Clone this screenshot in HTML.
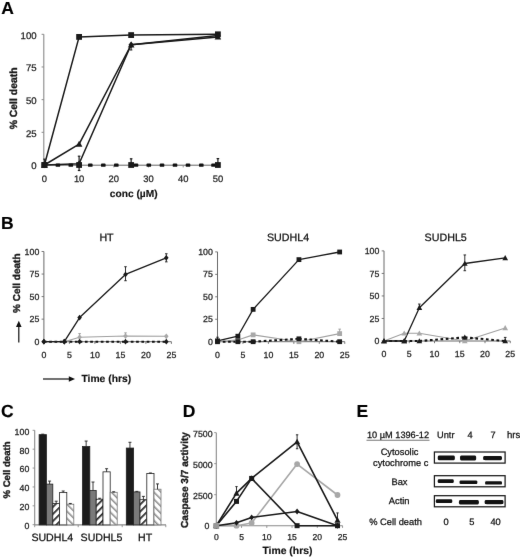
<!DOCTYPE html><html><head><meta charset="utf-8"><style>html,body{margin:0;padding:0;background:#fff;}svg{display:block;filter:grayscale(1);}text{font-family:"Liberation Sans", sans-serif;text-rendering:geometricPrecision;}</style></head><body>
<svg width="520" height="557" viewBox="0 0 520 557">
<defs><filter id="soft" filterUnits="userSpaceOnUse" x="-10" y="-10" width="540" height="577" color-interpolation-filters="sRGB"><feConvolveMatrix order="3" kernelMatrix="0.00276 0.04704 0.00276 0.04704 0.80077 0.04704 0.00276 0.04704 0.00276" edgeMode="duplicate" preserveAlpha="true"/></filter></defs>
<g filter="url(#soft)">
<rect x="-10" y="-10" width="540" height="577" fill="#ffffff"/>
<text x="1.30" y="13.70" font-size="17.5" text-anchor="start" font-weight="bold" stroke="#000" stroke-width="0.15" fill="#000">A</text>
<text x="1.00" y="229.40" font-size="17.5" text-anchor="start" font-weight="bold" stroke="#000" stroke-width="0.15" fill="#000">B</text>
<text x="1.00" y="416.60" font-size="17.5" text-anchor="start" font-weight="bold" stroke="#000" stroke-width="0.15" fill="#000">C</text>
<text x="182.80" y="416.80" font-size="17.5" text-anchor="start" font-weight="bold" stroke="#000" stroke-width="0.15" fill="#000">D</text>
<text x="356.60" y="417.00" font-size="17.5" text-anchor="start" font-weight="bold" stroke="#000" stroke-width="0.15" fill="#000">E</text>
<line x1="43.80" y1="34.30" x2="43.80" y2="165.30" stroke="#8a8a8a" stroke-width="1.1"/>
<line x1="43.80" y1="165.20" x2="219.50" y2="165.20" stroke="#666" stroke-width="1.0"/>
<line x1="41.60" y1="165.00" x2="43.80" y2="165.00" stroke="#8a8a8a" stroke-width="1.0"/>
<text x="36.60" y="169.30" font-size="9.6" text-anchor="end" stroke="#222" stroke-width="0.25" fill="#222">0</text>
<line x1="41.60" y1="132.32" x2="43.80" y2="132.32" stroke="#8a8a8a" stroke-width="1.0"/>
<text x="36.60" y="136.62" font-size="9.6" text-anchor="end" stroke="#222" stroke-width="0.25" fill="#222">25</text>
<line x1="41.60" y1="99.65" x2="43.80" y2="99.65" stroke="#8a8a8a" stroke-width="1.0"/>
<text x="36.60" y="103.95" font-size="9.6" text-anchor="end" stroke="#222" stroke-width="0.25" fill="#222">50</text>
<line x1="41.60" y1="66.98" x2="43.80" y2="66.98" stroke="#8a8a8a" stroke-width="1.0"/>
<text x="36.60" y="71.28" font-size="9.6" text-anchor="end" stroke="#222" stroke-width="0.25" fill="#222">75</text>
<line x1="41.60" y1="34.30" x2="43.80" y2="34.30" stroke="#8a8a8a" stroke-width="1.0"/>
<text x="36.60" y="38.60" font-size="9.6" text-anchor="end" stroke="#222" stroke-width="0.25" fill="#222">100</text>
<line x1="44.40" y1="165.20" x2="44.40" y2="167.40" stroke="#8a8a8a" stroke-width="1.0"/>
<text x="44.40" y="182.20" font-size="9.4" text-anchor="middle" stroke="#222" stroke-width="0.25" fill="#222">0</text>
<line x1="79.10" y1="165.20" x2="79.10" y2="167.40" stroke="#8a8a8a" stroke-width="1.0"/>
<text x="79.10" y="182.20" font-size="9.4" text-anchor="middle" stroke="#222" stroke-width="0.25" fill="#222">10</text>
<line x1="113.80" y1="165.20" x2="113.80" y2="167.40" stroke="#8a8a8a" stroke-width="1.0"/>
<text x="113.80" y="182.20" font-size="9.4" text-anchor="middle" stroke="#222" stroke-width="0.25" fill="#222">20</text>
<line x1="148.50" y1="165.20" x2="148.50" y2="167.40" stroke="#8a8a8a" stroke-width="1.0"/>
<text x="148.50" y="182.20" font-size="9.4" text-anchor="middle" stroke="#222" stroke-width="0.25" fill="#222">30</text>
<line x1="183.20" y1="165.20" x2="183.20" y2="167.40" stroke="#8a8a8a" stroke-width="1.0"/>
<text x="183.20" y="182.20" font-size="9.4" text-anchor="middle" stroke="#222" stroke-width="0.25" fill="#222">40</text>
<line x1="217.90" y1="165.20" x2="217.90" y2="167.40" stroke="#8a8a8a" stroke-width="1.0"/>
<text x="217.90" y="182.20" font-size="9.4" text-anchor="middle" stroke="#222" stroke-width="0.25" fill="#222">50</text>
<text x="133.70" y="197.40" font-size="10.2" text-anchor="middle" font-weight="bold" stroke="#111" stroke-width="0.15" fill="#111">conc (&#181;M)</text>
<text transform="translate(17.20,98.40) rotate(-90)" x="0" y="0" font-size="10.4" text-anchor="middle" font-weight="bold" stroke="#1a1a1a" stroke-width="0.35" fill="#1a1a1a">% Cell death</text>
<polyline points="44.40,165.00 79.10,36.91 131.15,35.08 217.90,34.30" fill="none" stroke="#1a1a1a" stroke-width="1.5" stroke-linejoin="round"/>
<polyline points="44.40,165.00 79.10,144.09 131.15,44.76 217.90,36.91" fill="none" stroke="#1a1a1a" stroke-width="1.5" stroke-linejoin="round"/>
<polyline points="44.40,165.00 79.10,163.69 131.15,44.76 217.90,35.61" fill="none" stroke="#1a1a1a" stroke-width="1.5" stroke-linejoin="round"/>
<rect x="55.60" y="163.6" width="4.6" height="3.2" rx="0.9" fill="#111"/>
<rect x="68.50" y="163.6" width="4.6" height="3.2" rx="0.9" fill="#111"/>
<rect x="88.00" y="163.6" width="4.6" height="3.2" rx="0.9" fill="#111"/>
<rect x="101.00" y="163.6" width="4.6" height="3.2" rx="0.9" fill="#111"/>
<rect x="114.00" y="163.6" width="4.6" height="3.2" rx="0.9" fill="#111"/>
<rect x="133.70" y="163.6" width="4.6" height="3.2" rx="0.9" fill="#111"/>
<rect x="146.50" y="163.6" width="4.6" height="3.2" rx="0.9" fill="#111"/>
<rect x="159.70" y="163.6" width="4.6" height="3.2" rx="0.9" fill="#111"/>
<rect x="172.70" y="163.6" width="4.6" height="3.2" rx="0.9" fill="#111"/>
<rect x="185.70" y="163.6" width="4.6" height="3.2" rx="0.9" fill="#111"/>
<rect x="199.00" y="163.6" width="4.6" height="3.2" rx="0.9" fill="#111"/>
<rect x="211.20" y="163.6" width="4.6" height="3.2" rx="0.9" fill="#111"/>
<line x1="79.10" y1="163.00" x2="79.10" y2="156.20" stroke="#1a1a1a" stroke-width="1.2"/>
<line x1="77.80" y1="156.20" x2="80.40" y2="156.20" stroke="#1a1a1a" stroke-width="1.2"/>
<line x1="79.10" y1="167.00" x2="79.10" y2="170.50" stroke="#1a1a1a" stroke-width="1.2"/>
<line x1="77.80" y1="170.50" x2="80.40" y2="170.50" stroke="#1a1a1a" stroke-width="1.2"/>
<line x1="131.15" y1="44.76" x2="131.15" y2="49.98" stroke="#1a1a1a" stroke-width="1.0"/>
<line x1="129.95" y1="49.98" x2="132.35" y2="49.98" stroke="#1a1a1a" stroke-width="1.0"/>
<line x1="131.15" y1="163.00" x2="131.15" y2="158.80" stroke="#1a1a1a" stroke-width="1.2"/>
<line x1="129.85" y1="158.80" x2="132.45" y2="158.80" stroke="#1a1a1a" stroke-width="1.2"/>
<line x1="217.90" y1="163.00" x2="217.90" y2="158.60" stroke="#1a1a1a" stroke-width="1.2"/>
<line x1="216.60" y1="158.60" x2="219.20" y2="158.60" stroke="#1a1a1a" stroke-width="1.2"/>
<line x1="44.40" y1="163.00" x2="44.40" y2="159.10" stroke="#1a1a1a" stroke-width="1.0"/>
<line x1="43.20" y1="159.10" x2="45.60" y2="159.10" stroke="#1a1a1a" stroke-width="1.0"/>
<rect x="41.50" y="162.10" width="5.80" height="5.80" fill="#1a1a1a"/>
<rect x="76.20" y="34.01" width="5.80" height="5.80" fill="#1a1a1a"/>
<rect x="128.25" y="32.18" width="5.80" height="5.80" fill="#1a1a1a"/>
<rect x="215.00" y="31.40" width="5.80" height="5.80" fill="#1a1a1a"/>
<polygon points="44.40,161.70 47.70,167.64 41.10,167.64" fill="#1a1a1a"/>
<polygon points="79.10,140.79 82.40,146.73 75.80,146.73" fill="#1a1a1a"/>
<polygon points="131.15,41.46 134.45,47.40 127.85,47.40" fill="#1a1a1a"/>
<polygon points="217.90,33.61 221.20,39.55 214.60,39.55" fill="#1a1a1a"/>
<polygon points="44.40,161.70 47.04,165.00 44.40,168.30 41.76,165.00" fill="#1a1a1a"/>
<polygon points="79.10,160.39 81.74,163.69 79.10,166.99 76.46,163.69" fill="#1a1a1a"/>
<polygon points="131.15,41.46 133.79,44.76 131.15,48.06 128.51,44.76" fill="#1a1a1a"/>
<polygon points="217.90,32.31 220.54,35.61 217.90,38.91 215.26,35.61" fill="#1a1a1a"/>
<rect x="41.50" y="162.10" width="5.80" height="5.80" fill="#1a1a1a"/>
<rect x="76.20" y="162.10" width="5.80" height="5.80" fill="#1a1a1a"/>
<rect x="128.25" y="162.10" width="5.80" height="5.80" fill="#1a1a1a"/>
<rect x="215.00" y="162.10" width="5.80" height="5.80" fill="#1a1a1a"/>
<line x1="43.90" y1="251.50" x2="43.90" y2="342.10" stroke="#6a6a6a" stroke-width="1.0"/>
<line x1="43.90" y1="341.70" x2="171.40" y2="341.70" stroke="#6a6a6a" stroke-width="1.0"/>
<line x1="41.60" y1="341.70" x2="43.90" y2="341.70" stroke="#6a6a6a" stroke-width="0.9"/>
<text x="39.30" y="344.80" font-size="8.8" text-anchor="end" stroke="#222" stroke-width="0.25" fill="#222">0</text>
<line x1="41.60" y1="319.15" x2="43.90" y2="319.15" stroke="#6a6a6a" stroke-width="0.9"/>
<text x="39.30" y="322.25" font-size="8.8" text-anchor="end" stroke="#222" stroke-width="0.25" fill="#222">25</text>
<line x1="41.60" y1="296.60" x2="43.90" y2="296.60" stroke="#6a6a6a" stroke-width="0.9"/>
<text x="39.30" y="299.70" font-size="8.8" text-anchor="end" stroke="#222" stroke-width="0.25" fill="#222">50</text>
<line x1="41.60" y1="274.05" x2="43.90" y2="274.05" stroke="#6a6a6a" stroke-width="0.9"/>
<text x="39.30" y="277.15" font-size="8.8" text-anchor="end" stroke="#222" stroke-width="0.25" fill="#222">75</text>
<line x1="41.60" y1="251.50" x2="43.90" y2="251.50" stroke="#6a6a6a" stroke-width="0.9"/>
<text x="39.30" y="254.60" font-size="8.8" text-anchor="end" stroke="#222" stroke-width="0.25" fill="#222">100</text>
<line x1="43.90" y1="341.70" x2="43.90" y2="343.90" stroke="#6a6a6a" stroke-width="0.9"/>
<text x="43.90" y="357.70" font-size="8.8" text-anchor="middle" stroke="#222" stroke-width="0.25" fill="#222">0</text>
<line x1="69.40" y1="341.70" x2="69.40" y2="343.90" stroke="#6a6a6a" stroke-width="0.9"/>
<text x="69.40" y="357.70" font-size="8.8" text-anchor="middle" stroke="#222" stroke-width="0.25" fill="#222">5</text>
<line x1="94.90" y1="341.70" x2="94.90" y2="343.90" stroke="#6a6a6a" stroke-width="0.9"/>
<text x="94.90" y="357.70" font-size="8.8" text-anchor="middle" stroke="#222" stroke-width="0.25" fill="#222">10</text>
<line x1="120.40" y1="341.70" x2="120.40" y2="343.90" stroke="#6a6a6a" stroke-width="0.9"/>
<text x="120.40" y="357.70" font-size="8.8" text-anchor="middle" stroke="#222" stroke-width="0.25" fill="#222">15</text>
<line x1="145.90" y1="341.70" x2="145.90" y2="343.90" stroke="#6a6a6a" stroke-width="0.9"/>
<text x="145.90" y="357.70" font-size="8.8" text-anchor="middle" stroke="#222" stroke-width="0.25" fill="#222">20</text>
<line x1="171.40" y1="341.70" x2="171.40" y2="343.90" stroke="#6a6a6a" stroke-width="0.9"/>
<text x="171.40" y="357.70" font-size="8.8" text-anchor="middle" stroke="#222" stroke-width="0.25" fill="#222">25</text>
<text x="106.50" y="240.90" font-size="10.7" text-anchor="middle" stroke="#111" stroke-width="0.25" fill="#111">HT</text>
<polyline points="43.90,341.70 64.30,341.70 79.60,337.19 125.50,336.02 166.30,336.29" fill="none" stroke="#a0a0a0" stroke-width="1.1" stroke-linejoin="round"/>
<line x1="43.90" y1="341.70" x2="64.30" y2="341.70" stroke="#111" stroke-width="2.1" stroke-dasharray="2.7 2.6"/>
<line x1="64.30" y1="341.70" x2="79.60" y2="341.70" stroke="#111" stroke-width="2.1" stroke-dasharray="2.7 2.6"/>
<line x1="79.60" y1="341.70" x2="125.50" y2="341.70" stroke="#111" stroke-width="2.1" stroke-dasharray="2.7 2.6"/>
<line x1="125.50" y1="341.70" x2="166.30" y2="341.70" stroke="#111" stroke-width="2.1" stroke-dasharray="2.7 2.6"/>
<polyline points="43.90,341.70 64.30,341.70 79.60,317.53 125.50,274.41 166.30,257.81" fill="none" stroke="#1a1a1a" stroke-width="1.3" stroke-linejoin="round"/>
<line x1="125.50" y1="274.41" x2="125.50" y2="266.74" stroke="#1a1a1a" stroke-width="0.9"/>
<line x1="124.20" y1="266.74" x2="126.80" y2="266.74" stroke="#1a1a1a" stroke-width="0.9"/>
<line x1="125.50" y1="274.41" x2="125.50" y2="280.72" stroke="#1a1a1a" stroke-width="0.9"/>
<line x1="124.20" y1="280.72" x2="126.80" y2="280.72" stroke="#1a1a1a" stroke-width="0.9"/>
<line x1="166.30" y1="257.81" x2="166.30" y2="253.75" stroke="#1a1a1a" stroke-width="0.9"/>
<line x1="165.00" y1="253.75" x2="167.60" y2="253.75" stroke="#1a1a1a" stroke-width="0.9"/>
<line x1="166.30" y1="257.81" x2="166.30" y2="261.87" stroke="#1a1a1a" stroke-width="0.9"/>
<line x1="165.00" y1="261.87" x2="167.60" y2="261.87" stroke="#1a1a1a" stroke-width="0.9"/>
<line x1="79.60" y1="337.19" x2="79.60" y2="333.58" stroke="#999" stroke-width="0.9"/>
<line x1="78.30" y1="333.58" x2="80.90" y2="333.58" stroke="#999" stroke-width="0.9"/>
<line x1="125.50" y1="336.02" x2="125.50" y2="332.86" stroke="#999" stroke-width="0.9"/>
<line x1="124.20" y1="332.86" x2="126.80" y2="332.86" stroke="#999" stroke-width="0.9"/>
<polygon points="43.90,338.84 46.19,341.70 43.90,344.56 41.61,341.70" fill="#a8a8a8"/>
<polygon points="64.30,338.84 66.59,341.70 64.30,344.56 62.01,341.70" fill="#a8a8a8"/>
<polygon points="79.60,334.33 81.89,337.19 79.60,340.05 77.31,337.19" fill="#a8a8a8"/>
<polygon points="125.50,333.16 127.79,336.02 125.50,338.88 123.21,336.02" fill="#a8a8a8"/>
<polygon points="166.30,333.43 168.59,336.29 166.30,339.15 164.01,336.29" fill="#a8a8a8"/>
<polygon points="43.90,338.84 46.19,341.70 43.90,344.56 41.61,341.70" fill="#1a1a1a"/>
<polygon points="64.30,338.84 66.59,341.70 64.30,344.56 62.01,341.70" fill="#1a1a1a"/>
<polygon points="79.60,338.84 81.89,341.70 79.60,344.56 77.31,341.70" fill="#1a1a1a"/>
<polygon points="125.50,338.84 127.79,341.70 125.50,344.56 123.21,341.70" fill="#1a1a1a"/>
<polygon points="166.30,338.84 168.59,341.70 166.30,344.56 164.01,341.70" fill="#1a1a1a"/>
<polygon points="43.90,338.84 46.19,341.70 43.90,344.56 41.61,341.70" fill="#1a1a1a"/>
<polygon points="64.30,338.84 66.59,341.70 64.30,344.56 62.01,341.70" fill="#1a1a1a"/>
<polygon points="79.60,314.67 81.89,317.53 79.60,320.39 77.31,317.53" fill="#1a1a1a"/>
<polygon points="125.50,271.55 127.79,274.41 125.50,277.27 123.21,274.41" fill="#1a1a1a"/>
<polygon points="166.30,254.95 168.59,257.81 166.30,260.67 164.01,257.81" fill="#1a1a1a"/>
<line x1="217.50" y1="251.90" x2="217.50" y2="342.10" stroke="#6a6a6a" stroke-width="1.0"/>
<line x1="217.50" y1="341.70" x2="344.75" y2="341.70" stroke="#6a6a6a" stroke-width="1.0"/>
<line x1="215.20" y1="341.70" x2="217.50" y2="341.70" stroke="#6a6a6a" stroke-width="0.9"/>
<text x="212.90" y="344.80" font-size="8.8" text-anchor="end" stroke="#222" stroke-width="0.25" fill="#222">0</text>
<line x1="215.20" y1="319.25" x2="217.50" y2="319.25" stroke="#6a6a6a" stroke-width="0.9"/>
<text x="212.90" y="322.35" font-size="8.8" text-anchor="end" stroke="#222" stroke-width="0.25" fill="#222">25</text>
<line x1="215.20" y1="296.80" x2="217.50" y2="296.80" stroke="#6a6a6a" stroke-width="0.9"/>
<text x="212.90" y="299.90" font-size="8.8" text-anchor="end" stroke="#222" stroke-width="0.25" fill="#222">50</text>
<line x1="215.20" y1="274.35" x2="217.50" y2="274.35" stroke="#6a6a6a" stroke-width="0.9"/>
<text x="212.90" y="277.45" font-size="8.8" text-anchor="end" stroke="#222" stroke-width="0.25" fill="#222">75</text>
<line x1="215.20" y1="251.90" x2="217.50" y2="251.90" stroke="#6a6a6a" stroke-width="0.9"/>
<text x="212.90" y="255.00" font-size="8.8" text-anchor="end" stroke="#222" stroke-width="0.25" fill="#222">100</text>
<line x1="217.50" y1="341.70" x2="217.50" y2="343.90" stroke="#6a6a6a" stroke-width="0.9"/>
<text x="217.50" y="357.70" font-size="8.8" text-anchor="middle" stroke="#222" stroke-width="0.25" fill="#222">0</text>
<line x1="242.95" y1="341.70" x2="242.95" y2="343.90" stroke="#6a6a6a" stroke-width="0.9"/>
<text x="242.95" y="357.70" font-size="8.8" text-anchor="middle" stroke="#222" stroke-width="0.25" fill="#222">5</text>
<line x1="268.40" y1="341.70" x2="268.40" y2="343.90" stroke="#6a6a6a" stroke-width="0.9"/>
<text x="268.40" y="357.70" font-size="8.8" text-anchor="middle" stroke="#222" stroke-width="0.25" fill="#222">10</text>
<line x1="293.85" y1="341.70" x2="293.85" y2="343.90" stroke="#6a6a6a" stroke-width="0.9"/>
<text x="293.85" y="357.70" font-size="8.8" text-anchor="middle" stroke="#222" stroke-width="0.25" fill="#222">15</text>
<line x1="319.30" y1="341.70" x2="319.30" y2="343.90" stroke="#6a6a6a" stroke-width="0.9"/>
<text x="319.30" y="357.70" font-size="8.8" text-anchor="middle" stroke="#222" stroke-width="0.25" fill="#222">20</text>
<line x1="344.75" y1="341.70" x2="344.75" y2="343.90" stroke="#6a6a6a" stroke-width="0.9"/>
<text x="344.75" y="357.70" font-size="8.8" text-anchor="middle" stroke="#222" stroke-width="0.25" fill="#222">25</text>
<text x="288.00" y="240.90" font-size="10.7" text-anchor="middle" stroke="#111" stroke-width="0.25" fill="#111">SUDHL4</text>
<polyline points="217.50,341.70 237.86,339.90 253.13,334.88 298.94,341.70 339.66,333.62" fill="none" stroke="#a0a0a0" stroke-width="1.1" stroke-linejoin="round"/>
<line x1="217.50" y1="341.70" x2="237.86" y2="341.70" stroke="#111" stroke-width="2.1" stroke-dasharray="2.7 2.6"/>
<line x1="237.86" y1="341.70" x2="253.13" y2="341.70" stroke="#111" stroke-width="2.1" stroke-dasharray="2.7 2.6"/>
<line x1="253.13" y1="341.70" x2="298.94" y2="338.83" stroke="#111" stroke-width="2.1" stroke-dasharray="2.7 2.6"/>
<line x1="298.94" y1="338.83" x2="339.66" y2="341.70" stroke="#111" stroke-width="2.1" stroke-dasharray="2.7 2.6"/>
<polyline points="217.50,340.80 237.86,336.22 253.13,309.37 298.94,259.62 339.66,251.99" fill="none" stroke="#1a1a1a" stroke-width="1.3" stroke-linejoin="round"/>
<line x1="339.66" y1="333.62" x2="339.66" y2="329.13" stroke="#999" stroke-width="0.9"/>
<line x1="338.36" y1="329.13" x2="340.96" y2="329.13" stroke="#999" stroke-width="0.9"/>
<line x1="217.50" y1="339.90" x2="217.50" y2="337.21" stroke="#1a1a1a" stroke-width="0.9"/>
<line x1="216.20" y1="337.21" x2="218.80" y2="337.21" stroke="#1a1a1a" stroke-width="0.9"/>
<rect x="215.10" y="339.30" width="4.80" height="4.80" fill="#a8a8a8"/>
<rect x="235.46" y="337.50" width="4.80" height="4.80" fill="#a8a8a8"/>
<rect x="250.73" y="332.48" width="4.80" height="4.80" fill="#a8a8a8"/>
<rect x="296.54" y="339.30" width="4.80" height="4.80" fill="#a8a8a8"/>
<rect x="337.26" y="331.22" width="4.80" height="4.80" fill="#a8a8a8"/>
<rect x="215.10" y="339.30" width="4.80" height="4.80" fill="#1a1a1a"/>
<rect x="235.46" y="339.30" width="4.80" height="4.80" fill="#1a1a1a"/>
<rect x="250.73" y="339.30" width="4.80" height="4.80" fill="#1a1a1a"/>
<rect x="296.54" y="336.43" width="4.80" height="4.80" fill="#1a1a1a"/>
<rect x="337.26" y="339.30" width="4.80" height="4.80" fill="#1a1a1a"/>
<rect x="215.10" y="338.40" width="4.80" height="4.80" fill="#1a1a1a"/>
<rect x="235.46" y="333.82" width="4.80" height="4.80" fill="#1a1a1a"/>
<rect x="250.73" y="306.97" width="4.80" height="4.80" fill="#1a1a1a"/>
<rect x="296.54" y="257.22" width="4.80" height="4.80" fill="#1a1a1a"/>
<rect x="337.26" y="249.59" width="4.80" height="4.80" fill="#1a1a1a"/>
<line x1="384.00" y1="250.90" x2="384.00" y2="341.40" stroke="#6a6a6a" stroke-width="1.0"/>
<line x1="384.00" y1="341.00" x2="510.25" y2="341.00" stroke="#6a6a6a" stroke-width="1.0"/>
<line x1="381.70" y1="341.00" x2="384.00" y2="341.00" stroke="#6a6a6a" stroke-width="0.9"/>
<text x="379.40" y="344.10" font-size="8.8" text-anchor="end" stroke="#222" stroke-width="0.25" fill="#222">0</text>
<line x1="381.70" y1="318.48" x2="384.00" y2="318.48" stroke="#6a6a6a" stroke-width="0.9"/>
<text x="379.40" y="321.58" font-size="8.8" text-anchor="end" stroke="#222" stroke-width="0.25" fill="#222">25</text>
<line x1="381.70" y1="295.95" x2="384.00" y2="295.95" stroke="#6a6a6a" stroke-width="0.9"/>
<text x="379.40" y="299.05" font-size="8.8" text-anchor="end" stroke="#222" stroke-width="0.25" fill="#222">50</text>
<line x1="381.70" y1="273.43" x2="384.00" y2="273.43" stroke="#6a6a6a" stroke-width="0.9"/>
<text x="379.40" y="276.53" font-size="8.8" text-anchor="end" stroke="#222" stroke-width="0.25" fill="#222">75</text>
<line x1="381.70" y1="250.90" x2="384.00" y2="250.90" stroke="#6a6a6a" stroke-width="0.9"/>
<text x="379.40" y="254.00" font-size="8.8" text-anchor="end" stroke="#222" stroke-width="0.25" fill="#222">100</text>
<line x1="384.00" y1="341.00" x2="384.00" y2="343.20" stroke="#6a6a6a" stroke-width="0.9"/>
<text x="384.00" y="357.00" font-size="8.8" text-anchor="middle" stroke="#222" stroke-width="0.25" fill="#222">0</text>
<line x1="409.25" y1="341.00" x2="409.25" y2="343.20" stroke="#6a6a6a" stroke-width="0.9"/>
<text x="409.25" y="357.00" font-size="8.8" text-anchor="middle" stroke="#222" stroke-width="0.25" fill="#222">5</text>
<line x1="434.50" y1="341.00" x2="434.50" y2="343.20" stroke="#6a6a6a" stroke-width="0.9"/>
<text x="434.50" y="357.00" font-size="8.8" text-anchor="middle" stroke="#222" stroke-width="0.25" fill="#222">10</text>
<line x1="459.75" y1="341.00" x2="459.75" y2="343.20" stroke="#6a6a6a" stroke-width="0.9"/>
<text x="459.75" y="357.00" font-size="8.8" text-anchor="middle" stroke="#222" stroke-width="0.25" fill="#222">15</text>
<line x1="485.00" y1="341.00" x2="485.00" y2="343.20" stroke="#6a6a6a" stroke-width="0.9"/>
<text x="485.00" y="357.00" font-size="8.8" text-anchor="middle" stroke="#222" stroke-width="0.25" fill="#222">20</text>
<line x1="510.25" y1="341.00" x2="510.25" y2="343.20" stroke="#6a6a6a" stroke-width="0.9"/>
<text x="510.25" y="357.00" font-size="8.8" text-anchor="middle" stroke="#222" stroke-width="0.25" fill="#222">25</text>
<text x="445.70" y="240.90" font-size="10.7" text-anchor="middle" stroke="#111" stroke-width="0.25" fill="#111">SUDHL5</text>
<polyline points="384.00,341.00 404.20,333.25 419.35,333.25 464.80,341.00 505.20,327.94" fill="none" stroke="#a0a0a0" stroke-width="1.1" stroke-linejoin="round"/>
<line x1="384.00" y1="341.00" x2="404.20" y2="341.00" stroke="#111" stroke-width="2.1" stroke-dasharray="2.7 2.6"/>
<line x1="404.20" y1="341.00" x2="419.35" y2="341.00" stroke="#111" stroke-width="2.1" stroke-dasharray="2.7 2.6"/>
<line x1="419.35" y1="341.00" x2="464.80" y2="337.40" stroke="#111" stroke-width="2.1" stroke-dasharray="2.7 2.6"/>
<line x1="464.80" y1="337.40" x2="505.20" y2="341.00" stroke="#111" stroke-width="2.1" stroke-dasharray="2.7 2.6"/>
<polyline points="384.00,341.00 404.20,341.00 419.35,307.66 464.80,263.51 505.20,257.93" fill="none" stroke="#1a1a1a" stroke-width="1.3" stroke-linejoin="round"/>
<line x1="464.80" y1="263.51" x2="464.80" y2="254.95" stroke="#1a1a1a" stroke-width="0.9"/>
<line x1="463.50" y1="254.95" x2="466.10" y2="254.95" stroke="#1a1a1a" stroke-width="0.9"/>
<line x1="464.80" y1="263.51" x2="464.80" y2="270.72" stroke="#1a1a1a" stroke-width="0.9"/>
<line x1="463.50" y1="270.72" x2="466.10" y2="270.72" stroke="#1a1a1a" stroke-width="0.9"/>
<line x1="419.35" y1="307.66" x2="419.35" y2="304.06" stroke="#1a1a1a" stroke-width="0.9"/>
<line x1="418.05" y1="304.06" x2="420.65" y2="304.06" stroke="#1a1a1a" stroke-width="0.9"/>
<line x1="505.20" y1="341.00" x2="505.20" y2="337.40" stroke="#1a1a1a" stroke-width="0.9"/>
<line x1="503.90" y1="337.40" x2="506.50" y2="337.40" stroke="#1a1a1a" stroke-width="0.9"/>
<polygon points="384.00,338.14 386.86,343.29 381.14,343.29" fill="#a8a8a8"/>
<polygon points="404.20,330.39 407.06,335.54 401.34,335.54" fill="#a8a8a8"/>
<polygon points="419.35,330.39 422.21,335.54 416.49,335.54" fill="#a8a8a8"/>
<polygon points="464.80,338.14 467.66,343.29 461.94,343.29" fill="#a8a8a8"/>
<polygon points="505.20,325.08 508.06,330.22 502.34,330.22" fill="#a8a8a8"/>
<polygon points="384.00,338.14 386.86,343.29 381.14,343.29" fill="#1a1a1a"/>
<polygon points="404.20,338.14 407.06,343.29 401.34,343.29" fill="#1a1a1a"/>
<polygon points="419.35,338.14 422.21,343.29 416.49,343.29" fill="#1a1a1a"/>
<polygon points="464.80,334.54 467.66,339.68 461.94,339.68" fill="#1a1a1a"/>
<polygon points="505.20,338.14 508.06,343.29 502.34,343.29" fill="#1a1a1a"/>
<polygon points="384.00,338.14 386.86,343.29 381.14,343.29" fill="#1a1a1a"/>
<polygon points="404.20,338.14 407.06,343.29 401.34,343.29" fill="#1a1a1a"/>
<polygon points="419.35,304.80 422.21,309.95 416.49,309.95" fill="#1a1a1a"/>
<polygon points="464.80,260.65 467.66,265.80 461.94,265.80" fill="#1a1a1a"/>
<polygon points="505.20,255.07 508.06,260.22 502.34,260.22" fill="#1a1a1a"/>
<text transform="translate(19.60,283.20) rotate(-90)" x="0" y="0" font-size="10.0" text-anchor="middle" font-weight="bold" stroke="#1a1a1a" stroke-width="0.35" fill="#1a1a1a">% Cell death</text>
<line x1="18.80" y1="342.50" x2="18.80" y2="326.00" stroke="#111" stroke-width="1.2"/>
<polygon points="18.8,320.8 21.6,327 16.0,327" fill="#111"/>
<line x1="43.00" y1="379.00" x2="69.00" y2="379.00" stroke="#111" stroke-width="1.2"/>
<polygon points="75,379 68.8,376.2 68.8,381.8" fill="#111"/>
<text x="106.30" y="382.40" font-size="10.3" text-anchor="middle" font-weight="bold" stroke="#111" stroke-width="0.15" fill="#111">Time (hrs)</text>
<line x1="34.70" y1="430.30" x2="34.70" y2="525.00" stroke="#8a8a8a" stroke-width="1.1"/>
<line x1="34.70" y1="524.90" x2="166.00" y2="524.90" stroke="#8a8a8a" stroke-width="1.1"/>
<line x1="32.60" y1="524.70" x2="34.70" y2="524.70" stroke="#8a8a8a" stroke-width="0.9"/>
<text x="29.30" y="529.10" font-size="8.8" text-anchor="end" stroke="#222" stroke-width="0.25" fill="#222">0</text>
<line x1="32.60" y1="505.82" x2="34.70" y2="505.82" stroke="#8a8a8a" stroke-width="0.9"/>
<text x="29.30" y="510.22" font-size="8.8" text-anchor="end" stroke="#222" stroke-width="0.25" fill="#222">20</text>
<line x1="32.60" y1="486.94" x2="34.70" y2="486.94" stroke="#8a8a8a" stroke-width="0.9"/>
<text x="29.30" y="491.34" font-size="8.8" text-anchor="end" stroke="#222" stroke-width="0.25" fill="#222">40</text>
<line x1="32.60" y1="468.06" x2="34.70" y2="468.06" stroke="#8a8a8a" stroke-width="0.9"/>
<text x="29.30" y="472.46" font-size="8.8" text-anchor="end" stroke="#222" stroke-width="0.25" fill="#222">60</text>
<line x1="32.60" y1="449.18" x2="34.70" y2="449.18" stroke="#8a8a8a" stroke-width="0.9"/>
<text x="29.30" y="453.58" font-size="8.8" text-anchor="end" stroke="#222" stroke-width="0.25" fill="#222">80</text>
<line x1="32.60" y1="430.30" x2="34.70" y2="430.30" stroke="#8a8a8a" stroke-width="0.9"/>
<text x="29.30" y="434.70" font-size="8.8" text-anchor="end" stroke="#222" stroke-width="0.25" fill="#222">100</text>
<line x1="34.70" y1="524.90" x2="34.70" y2="527.20" stroke="#8a8a8a" stroke-width="0.9"/>
<line x1="78.20" y1="524.90" x2="78.20" y2="527.20" stroke="#8a8a8a" stroke-width="0.9"/>
<line x1="122.20" y1="524.90" x2="122.20" y2="527.20" stroke="#8a8a8a" stroke-width="0.9"/>
<line x1="165.80" y1="524.90" x2="165.80" y2="527.20" stroke="#8a8a8a" stroke-width="0.9"/>
<text transform="translate(9.80,470.00) rotate(-90)" x="0" y="0" font-size="9.6" text-anchor="middle" font-weight="bold" stroke="#1a1a1a" stroke-width="0.35" fill="#1a1a1a">% Cell death</text>
<defs><pattern id="hA" patternUnits="userSpaceOnUse" width="5" height="5" patternTransform="rotate(45)"><rect width="5" height="5" fill="#fff"/><rect x="0" y="0" width="1.7" height="5" fill="#222"/></pattern><pattern id="hB" patternUnits="userSpaceOnUse" width="5" height="5" patternTransform="rotate(-45)"><rect width="5" height="5" fill="#fff"/><rect x="0" y="0" width="1.5" height="5" fill="#888"/></pattern></defs>
<rect x="39.10" y="434.64" width="7.30" height="90.26" fill="#1c1c1c" stroke="#222" stroke-width="0.8"/>
<line x1="42.75" y1="434.64" x2="42.75" y2="434.17" stroke="#222" stroke-width="0.9"/>
<line x1="41.25" y1="434.17" x2="44.25" y2="434.17" stroke="#222" stroke-width="0.9"/>
<rect x="46.40" y="484.11" width="6.40" height="40.79" fill="#7a7a7a" stroke="#222" stroke-width="0.8"/>
<line x1="49.60" y1="484.11" x2="49.60" y2="481.09" stroke="#222" stroke-width="0.9"/>
<line x1="48.10" y1="481.09" x2="51.10" y2="481.09" stroke="#222" stroke-width="0.9"/>
<rect x="52.80" y="503.55" width="6.80" height="21.35" fill="url(#hA)" stroke="#222" stroke-width="0.8"/>
<line x1="56.20" y1="503.55" x2="56.20" y2="501.19" stroke="#222" stroke-width="0.9"/>
<line x1="54.70" y1="501.19" x2="57.70" y2="501.19" stroke="#222" stroke-width="0.9"/>
<rect x="59.60" y="492.42" width="7.20" height="32.48" fill="#ffffff" stroke="#222" stroke-width="0.8"/>
<line x1="63.20" y1="492.42" x2="63.20" y2="491.00" stroke="#222" stroke-width="0.9"/>
<line x1="61.70" y1="491.00" x2="64.70" y2="491.00" stroke="#222" stroke-width="0.9"/>
<rect x="66.80" y="504.22" width="7.00" height="20.68" fill="url(#hB)" stroke="#777" stroke-width="0.8"/>
<line x1="70.30" y1="504.22" x2="70.30" y2="503.46" stroke="#222" stroke-width="0.9"/>
<line x1="68.80" y1="503.46" x2="71.80" y2="503.46" stroke="#222" stroke-width="0.9"/>
<rect x="82.50" y="446.54" width="7.30" height="78.36" fill="#1c1c1c" stroke="#222" stroke-width="0.8"/>
<line x1="86.15" y1="446.54" x2="86.15" y2="441.06" stroke="#222" stroke-width="0.9"/>
<line x1="84.65" y1="441.06" x2="87.65" y2="441.06" stroke="#222" stroke-width="0.9"/>
<rect x="89.80" y="490.53" width="6.40" height="34.37" fill="#7a7a7a" stroke="#222" stroke-width="0.8"/>
<line x1="93.00" y1="490.53" x2="93.00" y2="482.03" stroke="#222" stroke-width="0.9"/>
<line x1="91.50" y1="482.03" x2="94.50" y2="482.03" stroke="#222" stroke-width="0.9"/>
<rect x="96.20" y="499.21" width="6.80" height="25.69" fill="url(#hA)" stroke="#222" stroke-width="0.8"/>
<line x1="99.60" y1="499.21" x2="99.60" y2="498.27" stroke="#222" stroke-width="0.9"/>
<line x1="98.10" y1="498.27" x2="101.10" y2="498.27" stroke="#222" stroke-width="0.9"/>
<rect x="103.00" y="471.84" width="7.20" height="53.06" fill="#ffffff" stroke="#222" stroke-width="0.8"/>
<line x1="106.60" y1="471.84" x2="106.60" y2="468.72" stroke="#222" stroke-width="0.9"/>
<line x1="105.10" y1="468.72" x2="108.10" y2="468.72" stroke="#222" stroke-width="0.9"/>
<rect x="110.20" y="492.32" width="7.00" height="32.58" fill="url(#hB)" stroke="#777" stroke-width="0.8"/>
<line x1="113.70" y1="492.32" x2="113.70" y2="491.75" stroke="#222" stroke-width="0.9"/>
<line x1="112.20" y1="491.75" x2="115.20" y2="491.75" stroke="#222" stroke-width="0.9"/>
<rect x="126.30" y="448.05" width="7.30" height="76.85" fill="#1c1c1c" stroke="#222" stroke-width="0.8"/>
<line x1="129.95" y1="448.05" x2="129.95" y2="442.29" stroke="#222" stroke-width="0.9"/>
<line x1="128.45" y1="442.29" x2="131.45" y2="442.29" stroke="#222" stroke-width="0.9"/>
<rect x="133.60" y="491.94" width="6.40" height="32.96" fill="#7a7a7a" stroke="#222" stroke-width="0.8"/>
<line x1="136.80" y1="491.94" x2="136.80" y2="491.38" stroke="#222" stroke-width="0.9"/>
<line x1="135.30" y1="491.38" x2="138.30" y2="491.38" stroke="#222" stroke-width="0.9"/>
<rect x="140.00" y="499.68" width="6.80" height="25.22" fill="url(#hA)" stroke="#222" stroke-width="0.8"/>
<line x1="143.40" y1="499.68" x2="143.40" y2="496.38" stroke="#222" stroke-width="0.9"/>
<line x1="141.90" y1="496.38" x2="144.90" y2="496.38" stroke="#222" stroke-width="0.9"/>
<rect x="146.80" y="473.44" width="7.20" height="51.46" fill="#ffffff" stroke="#222" stroke-width="0.8"/>
<line x1="150.40" y1="473.44" x2="150.40" y2="472.97" stroke="#222" stroke-width="0.9"/>
<line x1="148.90" y1="472.97" x2="151.90" y2="472.97" stroke="#222" stroke-width="0.9"/>
<rect x="154.00" y="489.21" width="7.00" height="35.69" fill="url(#hB)" stroke="#777" stroke-width="0.8"/>
<line x1="157.50" y1="489.21" x2="157.50" y2="483.92" stroke="#222" stroke-width="0.9"/>
<line x1="156.00" y1="483.92" x2="159.00" y2="483.92" stroke="#222" stroke-width="0.9"/>
<text x="52.30" y="540.70" font-size="10.6" text-anchor="middle" stroke="#111" stroke-width="0.25" fill="#111">SUDHL4</text>
<text x="101.50" y="540.70" font-size="10.6" text-anchor="middle" stroke="#111" stroke-width="0.25" fill="#111">SUDHL5</text>
<text x="145.10" y="540.70" font-size="10.6" text-anchor="middle" stroke="#111" stroke-width="0.25" fill="#111">HT</text>
<line x1="216.30" y1="432.63" x2="216.30" y2="526.00" stroke="#8a8a8a" stroke-width="1.1"/>
<line x1="216.30" y1="525.70" x2="342.55" y2="525.70" stroke="#8a8a8a" stroke-width="1.1"/>
<line x1="214.20" y1="525.70" x2="216.30" y2="525.70" stroke="#8a8a8a" stroke-width="0.9"/>
<text x="209.40" y="529.20" font-size="8.8" text-anchor="end" stroke="#222" stroke-width="0.25" fill="#222">0</text>
<line x1="214.20" y1="494.68" x2="216.30" y2="494.68" stroke="#8a8a8a" stroke-width="0.9"/>
<text x="212.60" y="498.68" font-size="8.8" text-anchor="end" stroke="#222" stroke-width="0.25" fill="#222">2500</text>
<line x1="214.20" y1="463.65" x2="216.30" y2="463.65" stroke="#8a8a8a" stroke-width="0.9"/>
<text x="212.60" y="467.65" font-size="8.8" text-anchor="end" stroke="#222" stroke-width="0.25" fill="#222">5000</text>
<line x1="214.20" y1="432.63" x2="216.30" y2="432.63" stroke="#8a8a8a" stroke-width="0.9"/>
<text x="212.60" y="436.63" font-size="8.8" text-anchor="end" stroke="#222" stroke-width="0.25" fill="#222">7500</text>
<line x1="216.30" y1="525.70" x2="216.30" y2="527.90" stroke="#8a8a8a" stroke-width="0.9"/>
<text x="216.30" y="540.40" font-size="8.6" text-anchor="middle" stroke="#222" stroke-width="0.25" fill="#222">0</text>
<line x1="241.55" y1="525.70" x2="241.55" y2="527.90" stroke="#8a8a8a" stroke-width="0.9"/>
<text x="241.55" y="540.40" font-size="8.6" text-anchor="middle" stroke="#222" stroke-width="0.25" fill="#222">5</text>
<line x1="266.80" y1="525.70" x2="266.80" y2="527.90" stroke="#8a8a8a" stroke-width="0.9"/>
<text x="266.80" y="540.40" font-size="8.6" text-anchor="middle" stroke="#222" stroke-width="0.25" fill="#222">10</text>
<line x1="292.05" y1="525.70" x2="292.05" y2="527.90" stroke="#8a8a8a" stroke-width="0.9"/>
<text x="292.05" y="540.40" font-size="8.6" text-anchor="middle" stroke="#222" stroke-width="0.25" fill="#222">15</text>
<line x1="317.30" y1="525.70" x2="317.30" y2="527.90" stroke="#8a8a8a" stroke-width="0.9"/>
<text x="317.30" y="540.40" font-size="8.6" text-anchor="middle" stroke="#222" stroke-width="0.25" fill="#222">20</text>
<line x1="342.55" y1="525.70" x2="342.55" y2="527.90" stroke="#8a8a8a" stroke-width="0.9"/>
<text x="342.55" y="540.40" font-size="8.6" text-anchor="middle" stroke="#222" stroke-width="0.25" fill="#222">25</text>
<text x="287.40" y="553.60" font-size="10.4" text-anchor="middle" font-weight="bold" stroke="#111" stroke-width="0.15" fill="#111">Time (hrs)</text>
<text transform="translate(188.20,480.00) rotate(-90)" x="0" y="0" font-size="10.1" text-anchor="middle" font-weight="bold" stroke="#1a1a1a" stroke-width="0.35" fill="#1a1a1a">Caspase 3/7 activity</text>
<polyline points="216.30,525.70 236.50,525.70 251.65,522.97 297.10,464.11 337.50,495.00" fill="none" stroke="#a8a8a8" stroke-width="1.6" stroke-linejoin="round"/>
<polyline points="216.30,525.70 236.50,522.85 251.65,517.39 297.10,511.50 337.50,525.70" fill="none" stroke="#1a1a1a" stroke-width="1.6" stroke-linejoin="round"/>
<polyline points="216.30,525.70 236.50,501.38 251.65,478.42 297.10,525.70 337.50,525.70" fill="none" stroke="#1a1a1a" stroke-width="1.6" stroke-linejoin="round"/>
<polyline points="216.30,525.70 236.50,493.19 251.65,478.42 297.10,441.91 337.50,520.20" fill="none" stroke="#1a1a1a" stroke-width="1.6" stroke-linejoin="round"/>
<line x1="236.50" y1="493.19" x2="236.50" y2="486.61" stroke="#1a1a1a" stroke-width="0.9"/>
<line x1="235.30" y1="486.61" x2="237.70" y2="486.61" stroke="#1a1a1a" stroke-width="0.9"/>
<line x1="297.10" y1="441.91" x2="297.10" y2="434.80" stroke="#1a1a1a" stroke-width="0.9"/>
<line x1="295.90" y1="434.80" x2="298.30" y2="434.80" stroke="#1a1a1a" stroke-width="0.9"/>
<line x1="297.10" y1="441.91" x2="297.10" y2="448.76" stroke="#1a1a1a" stroke-width="0.9"/>
<line x1="295.90" y1="448.76" x2="298.30" y2="448.76" stroke="#1a1a1a" stroke-width="0.9"/>
<line x1="337.50" y1="520.20" x2="337.50" y2="512.91" stroke="#1a1a1a" stroke-width="0.9"/>
<line x1="336.30" y1="512.91" x2="338.70" y2="512.91" stroke="#1a1a1a" stroke-width="0.9"/>
<circle cx="216.30" cy="525.70" r="2.90" fill="#a8a8a8"/>
<circle cx="236.50" cy="525.70" r="2.90" fill="#a8a8a8"/>
<circle cx="251.65" cy="522.97" r="2.90" fill="#a8a8a8"/>
<circle cx="297.10" cy="464.11" r="2.90" fill="#a8a8a8"/>
<circle cx="337.50" cy="495.00" r="2.90" fill="#a8a8a8"/>
<polygon points="216.30,522.73 218.68,525.70 216.30,528.67 213.92,525.70" fill="#1a1a1a"/>
<polygon points="236.50,519.88 238.88,522.85 236.50,525.82 234.12,522.85" fill="#1a1a1a"/>
<polygon points="251.65,514.42 254.03,517.39 251.65,520.36 249.27,517.39" fill="#1a1a1a"/>
<polygon points="297.10,508.53 299.48,511.50 297.10,514.47 294.72,511.50" fill="#1a1a1a"/>
<polygon points="337.50,522.73 339.88,525.70 337.50,528.67 335.12,525.70" fill="#1a1a1a"/>
<rect x="213.80" y="523.20" width="5.00" height="5.00" fill="#1a1a1a"/>
<rect x="234.00" y="498.88" width="5.00" height="5.00" fill="#1a1a1a"/>
<rect x="249.15" y="475.92" width="5.00" height="5.00" fill="#1a1a1a"/>
<rect x="294.60" y="523.20" width="5.00" height="5.00" fill="#1a1a1a"/>
<rect x="335.00" y="523.20" width="5.00" height="5.00" fill="#1a1a1a"/>
<polygon points="216.30,522.62 219.38,528.16 213.22,528.16" fill="#1a1a1a"/>
<polygon points="236.50,490.11 239.58,495.65 233.42,495.65" fill="#1a1a1a"/>
<polygon points="251.65,475.34 254.73,480.88 248.57,480.88" fill="#1a1a1a"/>
<polygon points="297.10,438.83 300.18,444.37 294.02,444.37" fill="#1a1a1a"/>
<polygon points="337.50,517.12 340.58,522.67 334.42,522.67" fill="#1a1a1a"/>
<rect x="213.60" y="523.00" width="5.40" height="5.40" fill="#999"/>
<text x="398.00" y="438.10" font-size="9.2" text-anchor="middle" stroke="#111" stroke-width="0.25" fill="#111">10 &#181;M 1396-12</text>
<line x1="366.50" y1="440.30" x2="429.50" y2="440.30" stroke="#777" stroke-width="1.1"/>
<text x="445.80" y="438.10" font-size="9.2" text-anchor="middle" stroke="#111" stroke-width="0.25" fill="#111">Untr</text>
<text x="470.00" y="438.10" font-size="9.2" text-anchor="middle" stroke="#111" stroke-width="0.25" fill="#111">4</text>
<text x="493.10" y="438.10" font-size="9.2" text-anchor="middle" stroke="#111" stroke-width="0.25" fill="#111">7</text>
<text x="506.90" y="438.10" font-size="9.6" text-anchor="start" stroke="#111" stroke-width="0.25" fill="#111">hrs</text>
<text x="399.50" y="454.70" font-size="9.3" text-anchor="middle" stroke="#111" stroke-width="0.25" fill="#111">Cytosolic</text>
<text x="400.70" y="465.60" font-size="9.3" text-anchor="middle" stroke="#111" stroke-width="0.25" fill="#111">cytochrome c</text>
<text x="399.50" y="484.80" font-size="9.3" text-anchor="middle" stroke="#111" stroke-width="0.25" fill="#111">Bax</text>
<text x="399.20" y="503.70" font-size="9.3" text-anchor="middle" stroke="#111" stroke-width="0.25" fill="#111">Actin</text>
<text x="395.60" y="525.20" font-size="9.3" text-anchor="middle" stroke="#111" stroke-width="0.25" fill="#111">% Cell death</text>
<text x="446.00" y="525.20" font-size="9.3" text-anchor="middle" stroke="#111" stroke-width="0.25" fill="#111">0</text>
<text x="471.90" y="525.20" font-size="9.3" text-anchor="middle" stroke="#111" stroke-width="0.25" fill="#111">5</text>
<text x="495.60" y="525.20" font-size="9.3" text-anchor="middle" stroke="#111" stroke-width="0.25" fill="#111">40</text>
<rect x="434.4" y="452.00" width="70.7" height="11.10" fill="#fff" stroke="#1a1a1a" stroke-width="1.25"/>
<rect x="434.4" y="475.70" width="70.7" height="11.10" fill="#fff" stroke="#1a1a1a" stroke-width="1.25"/>
<rect x="434.4" y="495.70" width="70.7" height="11.10" fill="#fff" stroke="#1a1a1a" stroke-width="1.25"/>
<path d="M437.70,457.90 C437.70,455.55 438.40,455.55 440.28,455.55 L452.31,455.55 C454.19,455.55 454.90,455.55 454.90,457.90 C454.90,460.25 454.19,460.25 452.31,460.25 L440.28,460.25 C438.40,460.25 437.70,460.25 437.70,457.90Z" fill="#111"/>
<path d="M460.00,458.00 C460.00,455.55 460.74,455.55 462.69,455.55 L473.50,455.55 C475.46,455.55 476.20,455.55 476.20,458.00 C476.20,460.45 475.46,460.45 473.50,460.45 L462.69,460.45 C460.74,460.45 460.00,460.45 460.00,458.00Z" fill="#111"/>
<path d="M483.10,458.10 C483.10,455.95 483.75,455.95 485.47,455.95 L500.58,455.95 C501.61,455.95 502.00,456.81 502.00,458.10 C502.00,459.39 501.61,460.25 500.58,460.25 L485.47,460.25 C483.75,460.25 483.10,460.25 483.10,458.10Z" fill="#111"/>
<path d="M437.70,481.20 C437.70,479.35 438.25,479.35 439.74,479.35 L451.76,479.35 C453.25,479.35 453.80,479.35 453.80,481.20 C453.80,483.05 453.25,483.05 451.76,483.05 L439.74,483.05 C438.25,483.05 437.70,483.05 437.70,481.20Z" fill="#111"/>
<path d="M459.50,482.20 C459.50,480.40 460.04,480.40 461.48,480.40 L476.21,480.40 C477.08,480.40 477.40,481.12 477.40,482.20 C477.40,483.28 477.08,484.00 476.21,484.00 L461.48,484.00 C460.04,484.00 459.50,484.00 459.50,482.20Z" fill="#111"/>
<path d="M485.10,482.90 C485.10,481.20 485.61,481.20 486.97,481.20 L500.13,481.20 C501.49,481.20 502.00,481.20 502.00,482.90 C502.00,484.60 501.49,484.60 500.13,484.60 L486.97,484.60 C485.61,484.60 485.10,484.60 485.10,482.90Z" fill="#111"/>
<path d="M435.80,501.20 C435.80,499.35 436.36,499.35 437.84,499.35 L450.26,499.35 C451.75,499.35 452.30,499.35 452.30,501.20 C452.30,503.05 451.75,503.05 450.26,503.05 L437.84,503.05 C436.36,503.05 435.80,503.05 435.80,501.20Z" fill="#111"/>
<path d="M458.90,502.30 C458.90,500.00 459.59,500.00 461.43,500.00 L476.37,500.00 C478.21,500.00 478.90,500.00 478.90,502.30 C478.90,504.60 478.21,504.60 476.37,504.60 L461.43,504.60 C459.59,504.60 458.90,504.60 458.90,502.30Z" fill="#111"/>
<path d="M484.60,502.10 C484.60,499.95 485.25,499.95 486.97,499.95 L501.13,499.95 C502.86,499.95 503.50,499.95 503.50,502.10 C503.50,504.25 502.86,504.25 501.13,504.25 L486.97,504.25 C485.25,504.25 484.60,504.25 484.60,502.10Z" fill="#111"/>
</g>
</svg></body></html>
